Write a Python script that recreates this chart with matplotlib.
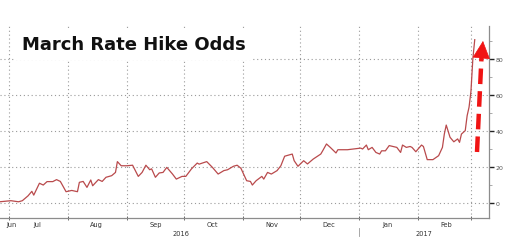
import numpy as np
import pandas as pd
import matplotlib
matplotlib.use('Agg')
import matplotlib.pyplot as plt
import matplotlib.dates as mdates
from matplotlib.transforms import blended_transform_factory

# March hike odds
dates = ["2016-06-26", "2016-07-02", "2016-07-06", "2016-07-08", "2016-07-11", "2016-07-13", "2016-07-14",
         "2016-07-17", "2016-07-19", "2016-07-21", "2016-07-24", "2016-07-26", "2016-07-28", "2016-07-31",
         "2016-08-03", "2016-08-06", "2016-08-07", "2016-08-09", "2016-08-11", "2016-08-13", "2016-08-14",
         "2016-08-17", "2016-08-19", "2016-08-21", "2016-08-24", "2016-08-26", "2016-08-27", "2016-08-29",
         "2016-09-01", "2016-09-04", "2016-09-07", "2016-09-09", "2016-09-11", "2016-09-13", "2016-09-14",
         "2016-09-16", "2016-09-18", "2016-09-20", "2016-09-22", "2016-09-25", "2016-09-27", "2016-09-30",
         "2016-10-02", "2016-10-05", "2016-10-08", "2016-10-09", "2016-10-13", "2016-10-16", "2016-10-19",
         "2016-10-22", "2016-10-24", "2016-10-27", "2016-10-29", "2016-10-31",
         "2016-11-03", "2016-11-05", "2016-11-06", "2016-11-08", "2016-11-11", "2016-11-12", "2016-11-14",
         "2016-11-16", "2016-11-19", "2016-11-21", "2016-11-23", "2016-11-27", "2016-11-28", "2016-11-30",
         "2016-12-03", "2016-12-05", "2016-12-08", "2016-12-12", "2016-12-13", "2016-12-15", "2016-12-17",
         "2016-12-20", "2016-12-21", "2016-12-26",
         "2017-01-02", "2017-01-03", "2017-01-05", "2017-01-06", "2017-01-08", "2017-01-10", "2017-01-12",
         "2017-01-13", "2017-01-15", "2017-01-17", "2017-01-21", "2017-01-23", "2017-01-24", "2017-01-26",
         "2017-01-28", "2017-01-29", "2017-01-31",
         "2017-02-03", "2017-02-04", "2017-02-06", "2017-02-09", "2017-02-12", "2017-02-14", "2017-02-15",
         "2017-02-16", "2017-02-18", "2017-02-20", "2017-02-22", "2017-02-23", "2017-02-24", "2017-02-26",
         "2017-02-27", "2017-02-28", "2017-03-01", "2017-03-02", "2017-03-03"]
odds = [0.7, 1.3, 0.7, 1.3, 4, 6.5, 4.4, 11, 10, 11.9, 11.9, 13, 12, 6.3,
        7, 6.3, 11.5, 12, 8.7, 12.8, 9.6, 13, 12, 14.3, 15.2, 17, 23, 20.7,
        20.7, 21, 14.8, 17, 21, 18.5, 19, 14.3, 16.7, 17, 19.8, 16.1, 13.3, 14.8,
        14.8, 19, 22.2, 21.6, 23, 19.8, 16.1, 18, 18.5, 20.4, 21, 19.3,
        12.4, 12, 10, 12.4, 14.8, 13.3, 17, 16.1, 18, 20.7, 26, 27.2, 23.5, 20.4,
        23.5, 21.7, 24.4, 27.2, 29, 32.8, 30.9, 27.8, 29.6, 29.6,
        30.5, 30, 32.2, 29.6, 30.9, 28.1, 27.2, 29, 29, 31.9, 30.9, 28.1, 32.2, 30.9, 31.4, 30.9, 28.5,
        32.2, 31.4, 24.1, 24.1, 26.3, 30.9, 38.3, 43.3, 36.5, 34, 35.6, 33.7, 38.3, 40.2,
        48.5, 53.2, 62, 80, 90.7]

month_labels = ["Jul", "Aug", "Sep", "Oct", "Nov", "Dec", "Jan", "Feb"]
year_labels = ["2016", "2017"]
y_ticks = [0, 20, 40, 60, 80]

dates = pd.to_datetime(dates)

fig = plt.figure(figsize=(5.08, 2.51), dpi=100)
ax = fig.add_axes([0.0, 0.1275, 0.9626, 0.765])

ax.plot(dates, odds, color='#b94a4c', lw=0.9, zorder=3)

ax.set_xlim(pd.Timestamp("2016-06-26 06:00"), pd.Timestamp("2017-03-10 12:00"))
ax.set_ylim(-8.3, 98.3)

# month boundaries as major ticks + grid, labels at mid-month
ax.xaxis.set_major_locator(mdates.MonthLocator())
ax.xaxis.set_major_formatter(plt.NullFormatter())
mids = pd.date_range("2016-07-01", periods=len(month_labels), freq="MS") + pd.Timedelta(days=15)
ax.set_xticks(mids, minor=True)
ax.set_xticklabels(month_labels, minor=True)
ax.tick_params(axis='x', which='minor', length=0, labelsize=4.8, labelcolor='#333333', pad=2)
ax.tick_params(axis='x', which='major', direction='inout', length=3, width=0.6, color='#555555')

trans = ax.transAxes
ax.text(11.5 / 489, -0.016, "Jun", transform=trans, ha='center', va='top', fontsize=4.8, color='#333333')
ax.text(180.5 / 489, -0.063, year_labels[0], transform=trans, ha='center', va='top', fontsize=4.8, color='#333333')
ax.text(424 / 489, -0.063, year_labels[1], transform=trans, ha='center', va='top', fontsize=4.8, color='#333333')
xsep = mdates.date2num(pd.Timestamp("2017-01-01"))
ax.plot([xsep, xsep], [-0.052, -0.094], transform=blended_transform_factory(ax.transData, ax.transAxes),
        color='#999999', lw=0.6, clip_on=False)

# right axis
ax.yaxis.tick_right()
ax.set_yticks(y_ticks)
ax.set_yticks(np.arange(0, 100, 10), minor=True)
ax.tick_params(axis='y', which='major', direction='out', length=3.5, width=1, color='#222222',
               labelsize=4.5, labelcolor='#555555', pad=1)
ax.tick_params(axis='y', which='minor', direction='out', length=2, width=0.5, color='#888888')

ax.grid(True, which='major', color='#9a9a9a', linestyle=(0, (1, 2.5)), lw=0.8)

for s in ['top', 'left']:
    ax.spines[s].set_visible(False)
for s in ['bottom', 'right']:
    ax.spines[s].set_color('#8c8c8c')
    ax.spines[s].set_linewidth(0.9)

# title
ax.text(22 / 489, 1 - 18 / 192, "March Rate Hike Odds", transform=ax.transAxes, ha='left', va='center',
        fontsize=13, fontweight='bold', color='#111111', zorder=4,
        bbox=dict(facecolor='white', edgecolor='none', pad=5))

# red dashed arrow
ax.plot([477 / 489, 481.5 / 489], [(219 - 153) / 192, (219 - 58) / 192], transform=ax.transAxes,
        color='#f01414', lw=3.2, linestyle=(0, (3.5, 1.6)), solid_capstyle='butt', zorder=5, clip_on=False)
ax.annotate('', xy=(483 / 489, (219 - 42) / 192), xytext=(481.4 / 489, (219 - 58) / 192),
            xycoords='axes fraction', textcoords='axes fraction',
            arrowprops=dict(arrowstyle='-|>,head_length=0.9,head_width=0.45', color='#f01414',
                            lw=0.5, mutation_scale=13, shrinkA=0, shrinkB=0), zorder=5)

plt.savefig('out.png', dpi=100)
